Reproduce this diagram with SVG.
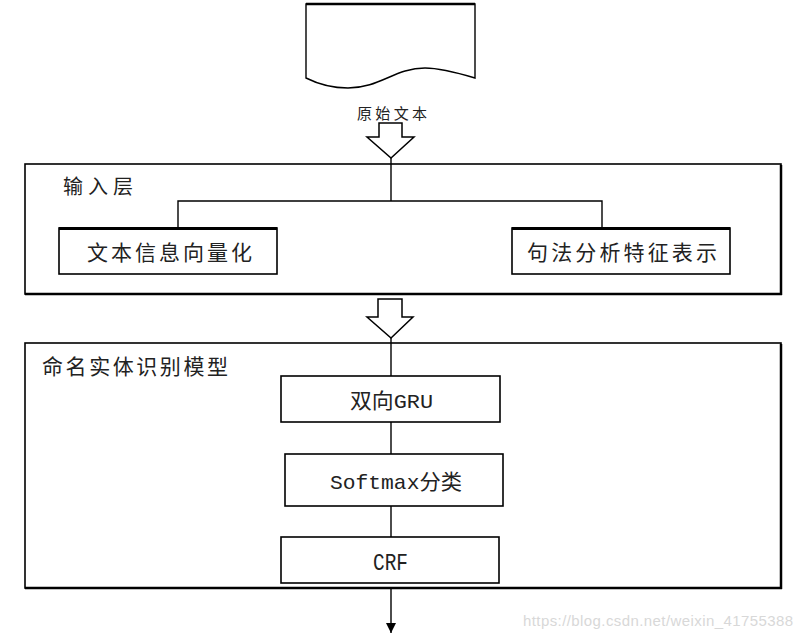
<svg xmlns="http://www.w3.org/2000/svg" width="803" height="638" viewBox="0 0 803 638">
<style>
.box{fill:#fff;stroke:#000;stroke-width:1.6}
.ln{fill:none;stroke:#000;stroke-width:1.4}
.cjk{font-family:"Noto Sans CJK SC","Noto Sans CJK JP",sans-serif;fill:#222}
.mono{font-family:"Liberation Mono","Noto Sans CJK SC",monospace;fill:#222}
</style>
<defs>
<marker id="ah" viewBox="0 0 10 10" refX="10" refY="5" markerWidth="10" markerHeight="10" markerUnits="userSpaceOnUse" orient="auto">
<path d="M0,0 L10,5 L0,10 Z" fill="#000"/>
</marker>
</defs>
<rect width="803" height="638" fill="#fff"/>

<g id="document">
<path d="M306,4 L475,4 L475,78 C455,72 440,68 425,68 C395,68 380,88 348,88 C330,88 318,84 306,78 Z" fill="#fff" stroke="#000" stroke-width="1.4"/>
<line x1="306" y1="4" x2="475" y2="4" stroke="#000" stroke-width="2.5"/>
<text class="cjk" x="392" y="119" font-size="15" text-anchor="middle" textLength="70">原始文本</text>
</g>

<g id="arrow1">
<path d="M379,123 L402,123 L402,137 L414,137 L391,158 L367,137 L379,137 Z" fill="#fff" stroke="#000" stroke-width="1.5"/>
</g>

<g id="input-layer">
<rect class="box" x="25" y="164" width="756" height="130"/>
<line x1="781" y1="165" x2="781" y2="295" stroke="#000" stroke-width="2.5"/>
<line x1="25" y1="294" x2="782" y2="294" stroke="#000" stroke-width="2.5"/>
<text class="cjk" x="63" y="194" font-size="20" textLength="70">输入层</text>
</g>

<g id="vec">
<rect class="box" x="59" y="228" width="218" height="46"/>
<line x1="59" y1="228.5" x2="277" y2="228.5" stroke="#000" stroke-width="3"/>
<text class="cjk" x="87" y="260" font-size="21" textLength="165">文本信息向量化</text>
</g>

<g id="syntax">
<rect class="box" x="512" y="228" width="218" height="46"/>
<line x1="512" y1="228.5" x2="730" y2="228.5" stroke="#000" stroke-width="3"/>
<text class="cjk" x="527" y="260" font-size="21" textLength="190">句法分析特征表示</text>
</g>

<g id="arrow2">
<path d="M378,299 L402,299 L402,317 L413,317 L391,338 L367,317 L378,317 Z" fill="#fff" stroke="#000" stroke-width="1.5"/>
</g>

<g id="ner">
<rect class="box" x="25" y="343" width="756" height="245"/>
<line x1="781" y1="344" x2="781" y2="589" stroke="#000" stroke-width="2.5"/>
<line x1="25" y1="588" x2="782" y2="588" stroke="#000" stroke-width="2.5"/>
<text class="cjk" x="42" y="374" font-size="21" textLength="186">命名实体识别模型</text>
</g>

<g id="gru">
<rect class="box" x="281" y="376" width="219" height="46"/>
<text class="mono" x="350" y="408" font-size="21" textLength="83" lengthAdjust="spacingAndGlyphs">双向GRU</text>
</g>

<g id="softmax">
<rect class="box" x="285" y="454" width="218" height="52"/>
<text class="mono" x="330" y="489" font-size="21" textLength="132" lengthAdjust="spacingAndGlyphs">Softmax分类</text>
</g>

<g id="crf">
<rect class="box" x="281" y="537" width="218" height="46"/>
<text class="mono" x="373" y="570" font-size="23" textLength="35" lengthAdjust="spacingAndGlyphs">CRF</text>
</g>

<g id="connectors">
<path class="ln" d="M391,158 L391,201"/>
<path class="ln" d="M178,228 L178,201 L602,201 L602,228"/>
<path class="ln" d="M391,338 L391,376"/>
<path class="ln" d="M391,422 L391,454"/>
<path class="ln" d="M391,506 L391,537"/>
<path class="ln" d="M391,589 L391,633" marker-end="url(#ah)"/>
</g>

<text x="523" y="626" font-family="Liberation Sans, sans-serif" font-size="15" fill="#d8d8d8" textLength="270">https://blog.csdn.net/weixin_41755388</text>
</svg>
